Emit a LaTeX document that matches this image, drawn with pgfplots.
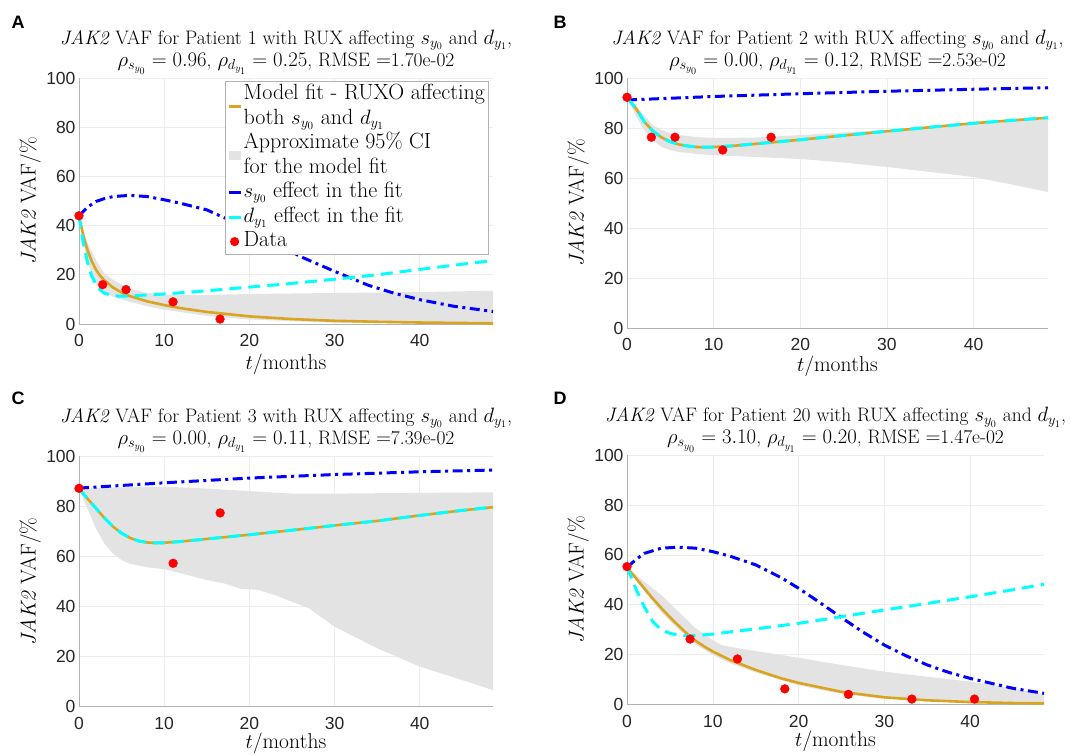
\documentclass[border=0pt]{standalone}
\usepackage{pgfplots}
\pgfplotsset{compat=1.18}
\usepackage{fontspec}
\newfontfamily\ticksf{Liberation Sans}
\definecolor{fitor}{RGB}{218,164,32}
\definecolor{bandg}{RGB}{227,227,227}
\definecolor{axg}{RGB}{178,178,178}
\definecolor{gridg}{RGB}{236,236,236}
\definecolor{cyn}{RGB}{0,255,255}
\definecolor{blu}{RGB}{0,0,255}
\definecolor{rd}{RGB}{255,0,0}
\pgfplotsset{
  panel/.style={
    scale only axis,
    xmin=0, xmax=48.6, ymin=0, ymax=100,
    xtick={0,10,20,30,40}, ytick={0,20,40,60,80,100},
    axis lines*=left,
    axis line style={axg, line width=0.8pt},
    major tick length=0pt,
    grid=major,
    grid style={gridg, line width=0.6pt},
    clip=false,
    /pgf/number format/assume math mode=true,
    tick label style={font=\ticksf\fontsize{17.5}{17.5}\selectfont, text=black!85},
    xticklabel style={yshift=-7pt},
    title style={at={(0.5,1)}, anchor=south, inner sep=0pt, yshift=-3pt, align=center, font=\fontsize{19.5}{22}\selectfont},
    xlabel={$t/\mathrm{months}$},
    ylabel={\textit{JAK2} VAF$/\%$},
    every axis x label/.style={at={(axis description cs:0.5,-0.183)}, anchor=base, inner sep=0pt, font=\fontsize{21.5}{24}\selectfont},
    every axis y label/.style={at={(axis description cs:-0.118,0.5)}, rotate=90, anchor=center, inner sep=0pt, font=\fontsize{21.5}{24}\selectfont},
  },
  band/.style={fill=bandg, draw=none, forget plot},
  fit/.style={fitor, line width=2.6pt, forget plot},
  seff/.style={blu, line width=3pt, dash pattern=on 10pt off 4.5pt on 3pt off 4.5pt, forget plot},
  deff/.style={cyn, line width=3pt, dash pattern=on 12pt off 7pt, forget plot},
  dat/.style={only marks, color=rd, mark=*, mark size=4.4pt, forget plot},
}
\begin{document}
\begin{tikzpicture}
\useasboundingbox (0,0) rectangle (1071pt,755pt);
\node[font=\ticksf\bfseries\fontsize{18}{18}\selectfont] at (18pt,733pt) {A};
\node[font=\ticksf\bfseries\fontsize{18}{18}\selectfont] at (560pt,733pt) {B};
\node[font=\ticksf\bfseries\fontsize{18}{18}\selectfont] at (18pt,357pt) {C};
\node[font=\ticksf\bfseries\fontsize{18}{18}\selectfont] at (560pt,357pt) {D};

% ---------------- Panel A
\begin{axis}[panel, at={(79pt,431pt)}, anchor=south west, width=414pt, height=246pt,
  title={\textit{JAK2} VAF for Patient 1 with RUX affecting $s_{y_0}$ and $d_{y_1}$,\\ $\rho_{s_{y_0}}=0.96$, $\rho_{d_{y_1}}=0.25$, RMSE $=$1.70e-02},
  legend style={at={(0.99,0.988)}, anchor=north east, draw=axg, fill=white, line width=0.8pt,
    font=\fontsize{22}{25}\selectfont, row sep=0pt, column sep=0pt, inner xsep=2pt, inner ysep=1pt,
    nodes={inner xsep=1.5pt, inner ysep=0.75pt, text height=16.5pt, text depth=6.5pt}},
  legend cell align=left]
\addplot[band] coordinates {(0,44) (1,33) (2,26) (3,20.5) (4,18) (5,16) (6,14.5) (8,12.6) (10,12) (15,11.8) (20,12.2) (30,12.6) (40,13) (48.6,13.5)
 (48.6,0.05) (40,0.2) (30,0.5) (20,1.8) (15,3.3) (10,5.8) (8,7.2) (6,9) (5,10) (4,11) (3,13) (2,16) (1,25) (0.5,33) (0,44)} -- cycle;
\addplot[fit] coordinates {(0,44) (0.5,36) (1,30) (1.5,25.5) (2,22) (2.5,19.5) (3,17.7) (4,14.8) (5,12.8) (6,11.3) (8,9.2) (10,7.7) (12,6.4) (15,4.9) (20,3.1) (25,2.0) (30,1.3) (35,0.9) (40,0.6) (45,0.4) (48.6,0.3)};
\addplot[seff] coordinates {(0,44) (1,47.5) (2,49.8) (3,51) (4,51.8) (6,52.3) (8,51.8) (10,50.5) (12,49) (15,46.4) (17.5,42.5) (20,38.5) (23,33) (26,27.4) (30,21.4) (34,15.7) (37,12.5) (40,9.9) (44,7.2) (48.6,5.1)};
\addplot[deff] coordinates {(0,44) (0.5,33) (1,25) (1.5,19.5) (2,16) (2.5,13.8) (3,12.5) (4,11.5) (5,11.3) (6,11.4) (8,11.8) (10,12.2) (15,13.5) (20,15) (25,16.5) (30,18.2) (35,20) (40,22.2) (45,24.3) (48.6,25.8)};
\addplot[dat] coordinates {(0,44) (2.78,16) (5.52,14) (11.04,9) (16.56,2)};
\addlegendimage{legend image code/.code={\path[draw=none, fill=none] (0pt,0pt) rectangle (12pt,0.1pt);}}
\addlegendentry{Model fit - RUXO affecting}
\addlegendimage{legend image code/.code={\path[draw=none, fill=none] (0pt,0pt) rectangle (12pt,0.1pt); \draw[overlay, fitor, line width=2.6pt] (0pt,12.5pt) -- (12pt,12.5pt);}}
\addlegendentry{both $s_{y_0}$ and $d_{y_1}$}
\addlegendimage{legend image code/.code={\path[draw=none, fill=none] (0pt,0pt) rectangle (12pt,0.1pt);}}
\addlegendentry{Approximate 95\% CI}
\addlegendimage{legend image code/.code={\path[draw=none, fill=none] (0pt,0pt) rectangle (12pt,0.1pt); \path[overlay, draw=none, fill=bandg] (0pt,8pt) rectangle (12pt,17pt);}}
\addlegendentry{for the model fit}
\addlegendimage{legend image code/.code={\draw[blu, line width=3pt] (0pt,0pt) -- (12pt,0pt);}}
\addlegendentry{$s_{y_0}$ effect in the fit}
\addlegendimage{legend image code/.code={\draw[cyn, line width=3pt] (0pt,0pt) -- (12pt,0pt);}}
\addlegendentry{$d_{y_1}$ effect in the fit}
\addlegendimage{legend image code/.code={\path[draw=none, fill=none] (0pt,0pt) rectangle (12pt,0.1pt); \path[draw=none, fill=rd] (6pt,0pt) circle (4.6pt);}}
\addlegendentry{Data}
\end{axis}

% ---------------- Panel B
\begin{axis}[panel, at={(627pt,427pt)}, anchor=south west, width=421pt, height=250pt,
  every axis x label/.append style={at={(axis description cs:0.5,-0.175)}},
  every axis y label/.append style={at={(axis description cs:-0.116,0.5)}},
  title={\textit{JAK2} VAF for Patient 2 with RUX affecting $s_{y_0}$ and $d_{y_1}$,\\ $\rho_{s_{y_0}}=0.00$, $\rho_{d_{y_1}}=0.12$, RMSE $=$2.53e-02}]
\addplot[band] coordinates {(0,92) (1,89) (2,85) (3,81) (4,79.2) (5,78) (6,77.2) (8,76.4) (10,76) (15,76.2) (20,77.2) (30,79.2) (40,81.5) (48.6,83.5)
 (48.6,54.4) (44,57.7) (40,60.4) (35,62.4) (30,64.4) (25,66.2) (20,67.6) (15,68.4) (10,69.1) (8,69.6) (6,70.4) (5,71.2) (4,72.4) (3,75) (2,79) (1,85) (0,92)} -- cycle;
\addplot[fit] coordinates {(0,92) (1,88) (2,82.5) (3,78.7) (4,76.2) (5,74.5) (6,73.4) (7,72.8) (8,72.4) (9,72.3) (10,72.4) (12,72.8) (15,73.7) (20,75.3) (25,77) (30,78.7) (35,80.3) (40,81.9) (45,83.2) (48.6,84.1)};
\addplot[seff] coordinates {(0,91.2) (10,92.6) (20,93.7) (30,94.7) (40,95.5) (48.6,96.1)};
\addplot[deff] coordinates {(0,92) (1,88) (2,82.5) (3,78.7) (4,76.2) (5,74.5) (6,73.4) (7,72.8) (8,72.4) (9,72.3) (10,72.4) (12,72.8) (15,73.7) (20,75.3) (25,77) (30,78.7) (35,80.3) (40,81.9) (45,83.2) (48.6,84.1)};
\addplot[dat] coordinates {(0,92.3) (2.81,76.3) (5.54,76.3) (11.05,71.2) (16.63,76.3)};
\end{axis}

% ---------------- Panel C
\begin{axis}[panel, at={(79pt,48.3pt)}, anchor=south west, width=414pt, height=250.7pt,
  every axis x label/.append style={at={(axis description cs:0.5,-0.168)}},
  title={\textit{JAK2} VAF for Patient 3 with RUX affecting $s_{y_0}$ and $d_{y_1}$,\\ $\rho_{s_{y_0}}=0.00$, $\rho_{d_{y_1}}=0.11$, RMSE $=$7.39e-02}]
\addplot[band] coordinates {(0,87) (5,87.5) (10,87.8) (15,87) (20,86) (25,85) (30,85) (40,85.3) (48.6,85.5)
 (48.6,6.6) (45,10.6) (40,16) (35,23.3) (30,31.9) (27,39.2) (25,41.9) (23,44.5) (21,46.6) (19,47) (17,49.2) (15,50.5) (12,53.2) (10,54.9) (8,55.6) (6,57) (5,58.5) (4,61) (3,65) (2,71) (1,79) (0,87)} -- cycle;
\addplot[fit] coordinates {(0,87) (1,83) (2,79.1) (3,75.2) (4,71.8) (5,69.2) (6,67.3) (7,66.1) (8,65.5) (9,65.3) (10,65.4) (12,65.9) (15,66.9) (20,68.6) (25,70.4) (30,72.3) (35,74.1) (40,76.3) (45,78.3) (48.6,79.6)};
\addplot[seff] coordinates {(0,87.2) (10,89.3) (20,91.2) (30,92.6) (40,93.7) (48.6,94.4)};
\addplot[deff] coordinates {(0,87) (1,83) (2,79.1) (3,75.2) (4,71.8) (5,69.2) (6,67.3) (7,66.1) (8,65.5) (9,65.3) (10,65.4) (12,65.9) (15,66.9) (20,68.6) (25,70.4) (30,72.3) (35,74.1) (40,76.3) (45,78.3) (48.6,79.6)};
\addplot[dat] coordinates {(0,87.1) (11.05,57.2) (16.57,77.3)};
\end{axis}

% ---------------- Panel D
\begin{axis}[panel, at={(627pt,50.7pt)}, anchor=south west, width=417pt, height=249pt,
  every axis x label/.append style={at={(axis description cs:0.5,-0.168)}},
  every axis y label/.append style={at={(axis description cs:-0.117,0.5)}},
  title={\textit{JAK2} VAF for Patient 20 with RUX affecting $s_{y_0}$ and $d_{y_1}$,\\ $\rho_{s_{y_0}}=3.10$, $\rho_{d_{y_1}}=0.20$, RMSE $=$1.47e-02}]
\addplot[band] coordinates {(0,55) (2,49.3) (4,43.9) (6,37.2) (8,30.5) (10,25.8) (11,23.8) (13,22.5) (15,21.4) (20,18.7) (25,15.8) (30,13.1) (35,11.1) (40,9.1) (44,7) (48.6,4)
 (48.6,0.2) (40,0.5) (30,2.2) (25,4.2) (20,7.6) (15,12.8) (12,16.5) (10,19.8) (8,24) (6,30) (4,37) (2,45.5) (1,50) (0,55)} -- cycle;
\addplot[fit] coordinates {(0,55) (1,50.8) (2,46.6) (3,42.5) (4,38.6) (5,35) (6,31.6) (7,28.3) (8,25.5) (9,23.2) (10,21.2) (12,17.8) (15,13.8) (18,10.4) (20,8.6) (25,5) (30,2.8) (35,1.6) (40,0.9) (45,0.5) (48.6,0.4)};
\addplot[seff] coordinates {(0,55) (1,58) (2,60.6) (4,62.7) (6,63.1) (8,62.7) (10,61.3) (12,59.5) (15,56) (18,50.8) (20,46.6) (22.5,40.8) (25,34.8) (27.5,29) (30,23.8) (32.5,19.5) (35,15.8) (37.5,12.8) (40,10.4) (45,6.4) (48.6,4.4)};
\addplot[deff] coordinates {(0,55) (0.5,51) (1,46.6) (2,39.2) (3,33.2) (4,29.9) (5,28.5) (6,27.8) (7,27.5) (8,27.6) (10,28.2) (15,30.3) (20,32.5) (25,35.2) (30,37.9) (35,40.5) (40,43.2) (45,46) (48.6,48.2)};
\addplot[dat] coordinates {(0,55.3) (7.35,26.2) (12.87,18.2) (18.39,6.2) (25.8,4) (33.2,2.1) (40.5,2.1)};
\end{axis}
\end{tikzpicture}
\end{document}
